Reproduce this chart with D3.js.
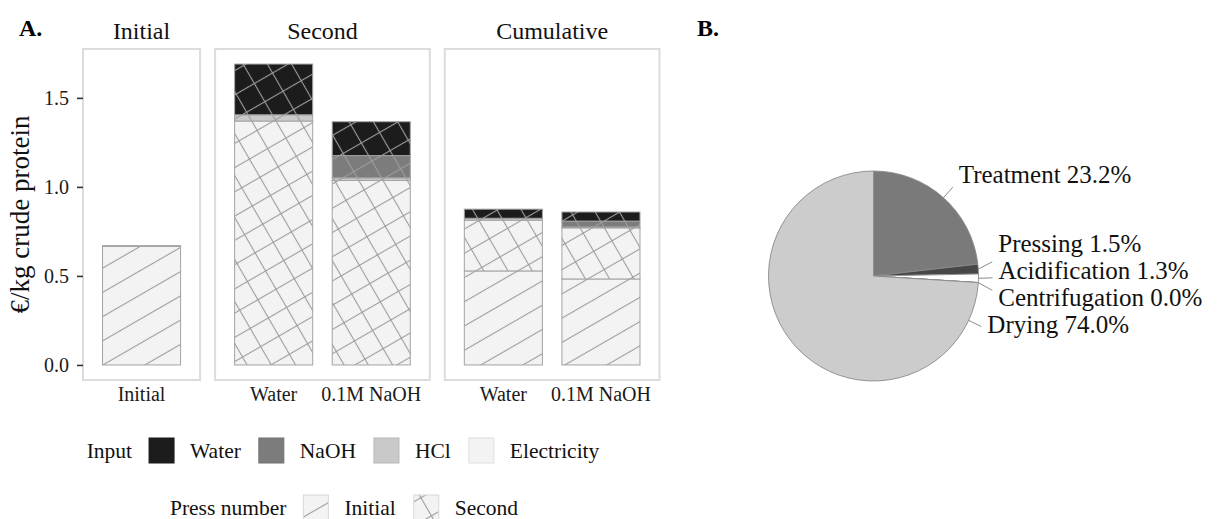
<!DOCTYPE html>
<html><head><meta charset="utf-8">
<script src="https://cdn.jsdelivr.net/npm/d3@7"></script>
<style>html,body{margin:0;padding:0;background:#fff;} svg{display:block;font-family:"Liberation Serif","Times New Roman",serif;}</style>
</head><body><svg id="chart" width="1217" height="519"></svg>
<script>
// ---------- data ----------
const panels = ["Initial", "Second", "Cumulative"];
const barPanel = ["Initial", "Second", "Second", "Cumulative", "Cumulative"];
const barLabels = ["Initial", "Water", "0.1M NaOH", "Water", "0.1M NaOH"];
const elecInitial = [0.666, 0, 0, 0.528, 0.483];
const elecSecond  = [0, 1.370, 1.036, 0.285, 0.287];
const hcl         = [0.004, 0.035, 0.015, 0.011, 0.005];
const naoh        = [0, 0, 0.125, 0, 0.033];
const water       = [0, 0.285, 0.190, 0.051, 0.051];
const inputs = ["Water", "NaOH", "HCl", "Electricity"];
const pressNumbers = ["Initial", "Second"];
const yTicks = [0, 0.5, 1.0, 1.5];
const pieLabels = ["Treatment", "Pressing", "Acidification", "Centrifugation", "Drying"];
const pieShares = [23.2, 1.5, 1.3, 0.0, 74.0];

// ---------- styles ----------
const inputColor = d3.scaleOrdinal().domain(inputs).range(["#1c1c1c", "#7c7c7c", "#c9c9c9", "#f3f3f3"]);
const pieColor = d3.scaleOrdinal().domain(pieLabels).range(["#7a7a7a", "#474747", "#ffffff", "#e6e6e6", "#cccccc"]);
const svg = d3.select("#chart");
const defs = svg.append("defs");
const SP = 21, LC = "#9c9c9c", LW = 1.1;
function mkPattern(id, cross) {
  const p = defs.append("pattern").attr("id", id).attr("patternUnits", "userSpaceOnUse")
    .attr("width", SP).attr("height", SP).attr("patternTransform", "rotate(-30)");
  p.append("line").attr("x1", 0).attr("x2", SP).attr("y1", SP / 2).attr("y2", SP / 2)
    .attr("stroke", LC).attr("stroke-width", LW);
  if (cross) p.append("line").attr("y1", 0).attr("y2", SP).attr("x1", SP / 2).attr("x2", SP / 2)
    .attr("stroke", LC).attr("stroke-width", LW);
}
mkPattern("pat-Initial", false);
mkPattern("pat-Second", true);

// ---------- stacked data ----------
const keys = ["elecInitial", "elecSecond", "hcl", "naoh", "water"];
const keyInput = {elecInitial: "Electricity", elecSecond: "Electricity", hcl: "HCl", naoh: "NaOH", water: "Water"};
const rows = barLabels.map((b, i) => ({i, elecInitial: elecInitial[i], elecSecond: elecSecond[i], hcl: hcl[i], naoh: naoh[i], water: water[i]}));
const series = d3.stack().keys(keys)(rows);
const totals = rows.map(r => d3.sum(keys, k => r[k]));
const maxTotal = d3.max(totals);

// ---------- layout ----------
const plotLeft = 83, plotRight = 659.5, panelGap = 15, panelTop = 49, panelBottom = 380;
const counts = panels.map(p => barPanel.filter(b => b === p).length);
const unit = (plotRight - plotLeft - panelGap * (panels.length - 1)) / d3.sum(counts, c => c + 0.2);
const y = d3.scaleLinear().domain([-0.05 * maxTotal, 1.05 * maxTotal]).range([panelBottom, panelTop]);

const panelScales = {};
let cursor = plotLeft;
panels.forEach((p, pi) => {
  const w = (counts[pi] + 0.2) * unit;
  const idx = barPanel.map((b, i) => b === p ? i : -1).filter(i => i >= 0);
  panelScales[p] = {x0: cursor, x1: cursor + w,
    band: d3.scaleBand().domain(idx).range([cursor, cursor + w]).paddingInner(0.2).paddingOuter(0.2)};
  cursor += w + panelGap;
});
const barX = i => panelScales[barPanel[i]].band(i);
const bw = panelScales[panels[0]].band.bandwidth();

// panels
panels.forEach(p => {
  const s = panelScales[p];
  svg.append("rect").attr("x", s.x0).attr("y", panelTop).attr("width", s.x1 - s.x0).attr("height", panelBottom - panelTop)
    .attr("fill", "#fff").attr("stroke", "#dcdcdc").attr("stroke-width", 2);
  svg.append("text").attr("x", (s.x0 + s.x1) / 2).attr("y", 39).attr("text-anchor", "middle")
    .attr("font-size", 24).attr("fill", "#111").text(p);
});

// bars
const gBars = svg.append("g");
series.forEach(layer => {
  const k = layer.key;
  layer.forEach((d, i) => {
    if (d[1] - d[0] <= 0) return;
    const press = k === "elecInitial" ? "Initial" : (k === "elecSecond" ? "Second" : (barPanel[i] === "Initial" ? "Initial" : "Second"));
    const x = barX(i), yt = y(d[1]), h = y(d[0]) - y(d[1]);
    gBars.append("rect").attr("x", x).attr("y", yt).attr("width", bw).attr("height", h)
      .attr("fill", inputColor(keyInput[k]));
    gBars.append("rect").attr("x", x).attr("y", yt).attr("width", bw).attr("height", h)
      .attr("fill", `url(#pat-${press})`);
    gBars.append("rect").attr("x", x).attr("y", yt).attr("width", bw).attr("height", h)
      .attr("fill", "none").attr("stroke", "#a3a3a3").attr("stroke-width", 1);
  });
});

// y axis
const yAxis = svg.append("g").attr("transform", `translate(${plotLeft},0)`)
  .call(d3.axisLeft(y).tickValues(yTicks).tickFormat(d3.format(".1f")).tickSize(6).tickPadding(8));
yAxis.select(".domain").remove();
yAxis.selectAll(".tick line").attr("stroke", "#333").attr("stroke-width", 1.6);
yAxis.selectAll(".tick text").attr("font-size", 20).attr("font-family", "Liberation Serif, Times New Roman, serif").attr("fill", "#1a1a1a");
svg.append("text").attr("transform", `translate(29,${(panelTop + panelBottom) / 2}) rotate(-90)`)
  .attr("text-anchor", "middle").attr("font-size", 27).attr("fill", "#111").text("€/kg crude protein");

// x labels
barLabels.forEach((b, i) => {
  svg.append("text").attr("x", barX(i) + bw / 2).attr("y", 401).attr("text-anchor", "middle")
    .attr("font-size", 20).attr("fill", "#1a1a1a").text(b);
});

// panel letters
svg.append("text").attr("x", 19).attr("y", 36).attr("font-size", 24).attr("font-weight", "bold").text("A.");
svg.append("text").attr("x", 697).attr("y", 36).attr("font-size", 24).attr("font-weight", "bold").text("B.");

// legends
const KS = 25, FS = 21.5;
function legendRow(title, items, drawKey, keyTop, baseline, centerX) {
  const g = svg.append("g");
  let x = 0;
  const t = g.append("text").attr("x", x).attr("y", baseline).attr("font-size", FS).attr("fill", "#111").text(title);
  x += t.node().getComputedTextLength() + 17;
  items.forEach(it => {
    drawKey(g, it, x, keyTop);
    x += KS + 16;
    const tt = g.append("text").attr("x", x).attr("y", baseline).attr("font-size", FS).attr("fill", "#111").text(it);
    x += tt.node().getComputedTextLength() + 18;
  });
  const w = x - 18;
  g.attr("transform", `translate(${centerX - w / 2},0)`);
}
legendRow("Input", inputs, (g, it, x, top) => {
  const c = inputColor(it);
  g.append("rect").attr("x", x).attr("y", top).attr("width", KS).attr("height", KS)
    .attr("fill", c).attr("stroke", d3.color(c).darker(0.25)).attr("stroke-width", 1);
}, 438, 458, 343);
legendRow("Press number", pressNumbers, (g, it, x, top) => {
  g.append("rect").attr("x", x).attr("y", top).attr("width", KS).attr("height", KS).attr("fill", "#f3f3f3");
  g.append("rect").attr("x", x).attr("y", top).attr("width", KS).attr("height", KS).attr("fill", `url(#pat-${it})`)
    .attr("stroke", "#d8d8d8").attr("stroke-width", 1);
}, 495, 515, 344);

// ---------- pie ----------
const pcx = 873.5, pcy = 276, pr = 105;
const arcs = d3.pie().sort(null).value(d => d)(pieShares);
const arcGen = d3.arc().innerRadius(0).outerRadius(pr);
const gPie = svg.append("g").attr("transform", `translate(${pcx},${pcy})`);
gPie.selectAll("path").data(arcs).join("path").attr("d", arcGen)
  .attr("fill", (d, i) => pieColor(pieLabels[i])).attr("stroke", "#8a8a8a").attr("stroke-width", 0.9);

const GAP = 27, maxAng = 115 * Math.PI / 180;
const labs = arcs.map((a, i) => {
  const ang = Math.min((a.startAngle + a.endAngle) / 2, maxAng);
  return {i, ang, ax: pcx + pr * Math.sin(ang), ay: pcy - pr * Math.cos(ang),
    natural: pcy - (pr + 22) * Math.cos(ang) - 6};
});
let groups = labs.slice().sort((a, b) => a.natural - b.natural).map(l => ({items: [l], mean: l.natural}));
let merged = true;
while (merged) {
  merged = false;
  for (let j = 1; j < groups.length; j++) {
    const a = groups[j - 1], b = groups[j];
    const aLast = a.mean + (a.items.length - 1) / 2 * GAP;
    const bFirst = b.mean - (b.items.length - 1) / 2 * GAP;
    if (bFirst - aLast < GAP) {
      const items = a.items.concat(b.items);
      groups.splice(j - 1, 2, {items, mean: d3.mean(items, l => l.natural)});
      merged = true; break;
    }
  }
}
groups.forEach(g => { const k = g.items.length; g.items.forEach((l, j) => l.cy = g.mean - (k - 1) / 2 * GAP + j * GAP); });
labs.forEach(l => {
  const ex = pcx + (pr + 14) * Math.sin(l.ang);
  const ey = pcy - (pr + 14) * Math.cos(l.ang) + 0.35 * (l.cy - l.natural);
  svg.append("line").attr("x1", l.ax).attr("y1", l.ay).attr("x2", ex).attr("y2", ey)
    .attr("stroke", "#8a8a8a").attr("stroke-width", 1);
  svg.append("text").attr("x", ex + 6).attr("y", l.cy + 8).attr("font-size", 25).attr("fill", "#111")
    .text(`${pieLabels[l.i]} ${pieShares[l.i].toFixed(1)}%`);
});
</script></body></html>
